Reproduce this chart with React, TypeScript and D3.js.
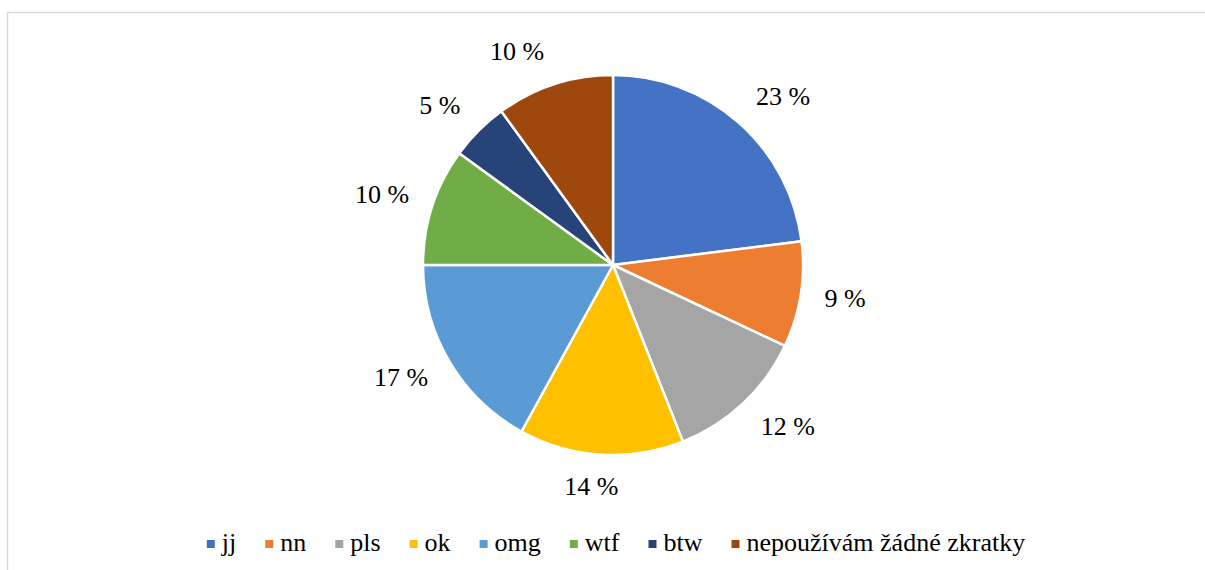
import React from "react";
import * as d3 from "d3";

const categories = ["jj", "nn", "pls", "ok", "omg", "wtf", "btw", "nepoužívám žádné zkratky"];
const values = [23, 9, 12, 14, 17, 10, 5, 10];
const colors = ["#4472C4", "#ED7D31", "#A5A5A5", "#FFC000", "#5B9BD5", "#70AD47", "#264478", "#9E480E"];

const W = 1205;
const H = 570;
const FONT = "Liberation Serif, Times New Roman, serif";
const FS = 26;
const BASE_FS = 20;
const SCALE = FS / BASE_FS;

// approximate Times advance widths (em)
const ADV: Record<string, number> = {
  "0": 0.5, "1": 0.5, "2": 0.5, "3": 0.5, "4": 0.5, "5": 0.5, "6": 0.5, "7": 0.5, "8": 0.5, "9": 0.5,
  " ": 0.25, "%": 0.833, a: 0.444, á: 0.444, b: 0.5, d: 0.5, e: 0.444, é: 0.444, f: 0.333, g: 0.5,
  í: 0.278, j: 0.278, k: 0.5, l: 0.278, m: 0.778, n: 0.5, o: 0.5, p: 0.5, r: 0.333, s: 0.389,
  t: 0.278, u: 0.5, v: 0.5, w: 0.722, y: 0.5, z: 0.444, ž: 0.444,
};
function measure(s: string): number {
  let w = 0;
  for (const ch of s) w += ADV[ch] ?? 0.5;
  return w * FS;
}

function Label({ x, y, anchor, children }: { x: number; y: number; anchor?: string; children: any }) {
  return (
    <text
      transform={`translate(${x},${y}) scale(${SCALE})`}
      textAnchor={anchor || "start"}
      style={{ fontFamily: FONT, fontSize: BASE_FS }}
      fill="#000"
    >
      {children}
    </text>
  );
}

export default function App() {
  const cx = 613;
  const cy = 265;
  const r = 190;

  const data = categories.map((c, i) => ({ c, v: values[i], color: colors[i] }));
  const pie = d3.pie<any>().value((d: any) => d.v).sort(null);
  const arcs = pie(data);
  const arc = d3.arc<any>().innerRadius(0).outerRadius(r);

  const labels = arcs.map((a: any) => {
    const mid = (a.startAngle + a.endAngle) / 2;
    const s = Math.sin(mid);
    const c = Math.cos(mid);
    const text = `${a.data.v} %`;
    const w = measure(text);
    const ax = (r + 20) * s;
    const ay = -(r + 20) * c;
    const x = cx + ax + (w / 2 + 4) * Math.max(-1, Math.min(1, s * 4.3));
    const y = cy + ay - c * 13;
    return { text, x, y };
  });

  const legY = 551;
  const gap = 29;
  const items = data.map((d) => ({ ...d, w: 15 + measure(d.c) }));
  const total = d3.sum(items, (d) => d.w) + gap * (items.length - 1);
  let xx = cx - total / 2 + 3;
  const legend = items.map((it) => {
    const x = xx;
    xx += it.w + gap;
    return { ...it, x };
  });

  return (
    <svg width={W} height={H} style={{ position: "absolute", left: 0, top: 0 }}>
      <rect x={7.5} y={12.5} width={1220} height={620} fill="#fff" stroke="#d9d9d9" strokeWidth={1.5} />
      <g transform={`translate(${cx},${cy})`}>
        {arcs.map((a: any, i: number) => (
          <path key={i} d={arc(a) || ""} fill={a.data.color} stroke="#fff" strokeWidth={2.5} strokeLinejoin="round" />
        ))}
      </g>
      {labels.map((l, i) => (
        <Label key={"l" + i} x={l.x} y={l.y + 7} anchor="middle">
          {l.text}
        </Label>
      ))}
      {legend.map((it, i) => (
        <rect key={"m" + i} x={it.x} y={legY - 11} width={8} height={8} fill={it.color} />
      ))}
      {legend.map((it, i) => (
        <Label key={"t" + i} x={it.x + 15} y={legY}>
          {it.c}
        </Label>
      ))}
    </svg>
  );
}
